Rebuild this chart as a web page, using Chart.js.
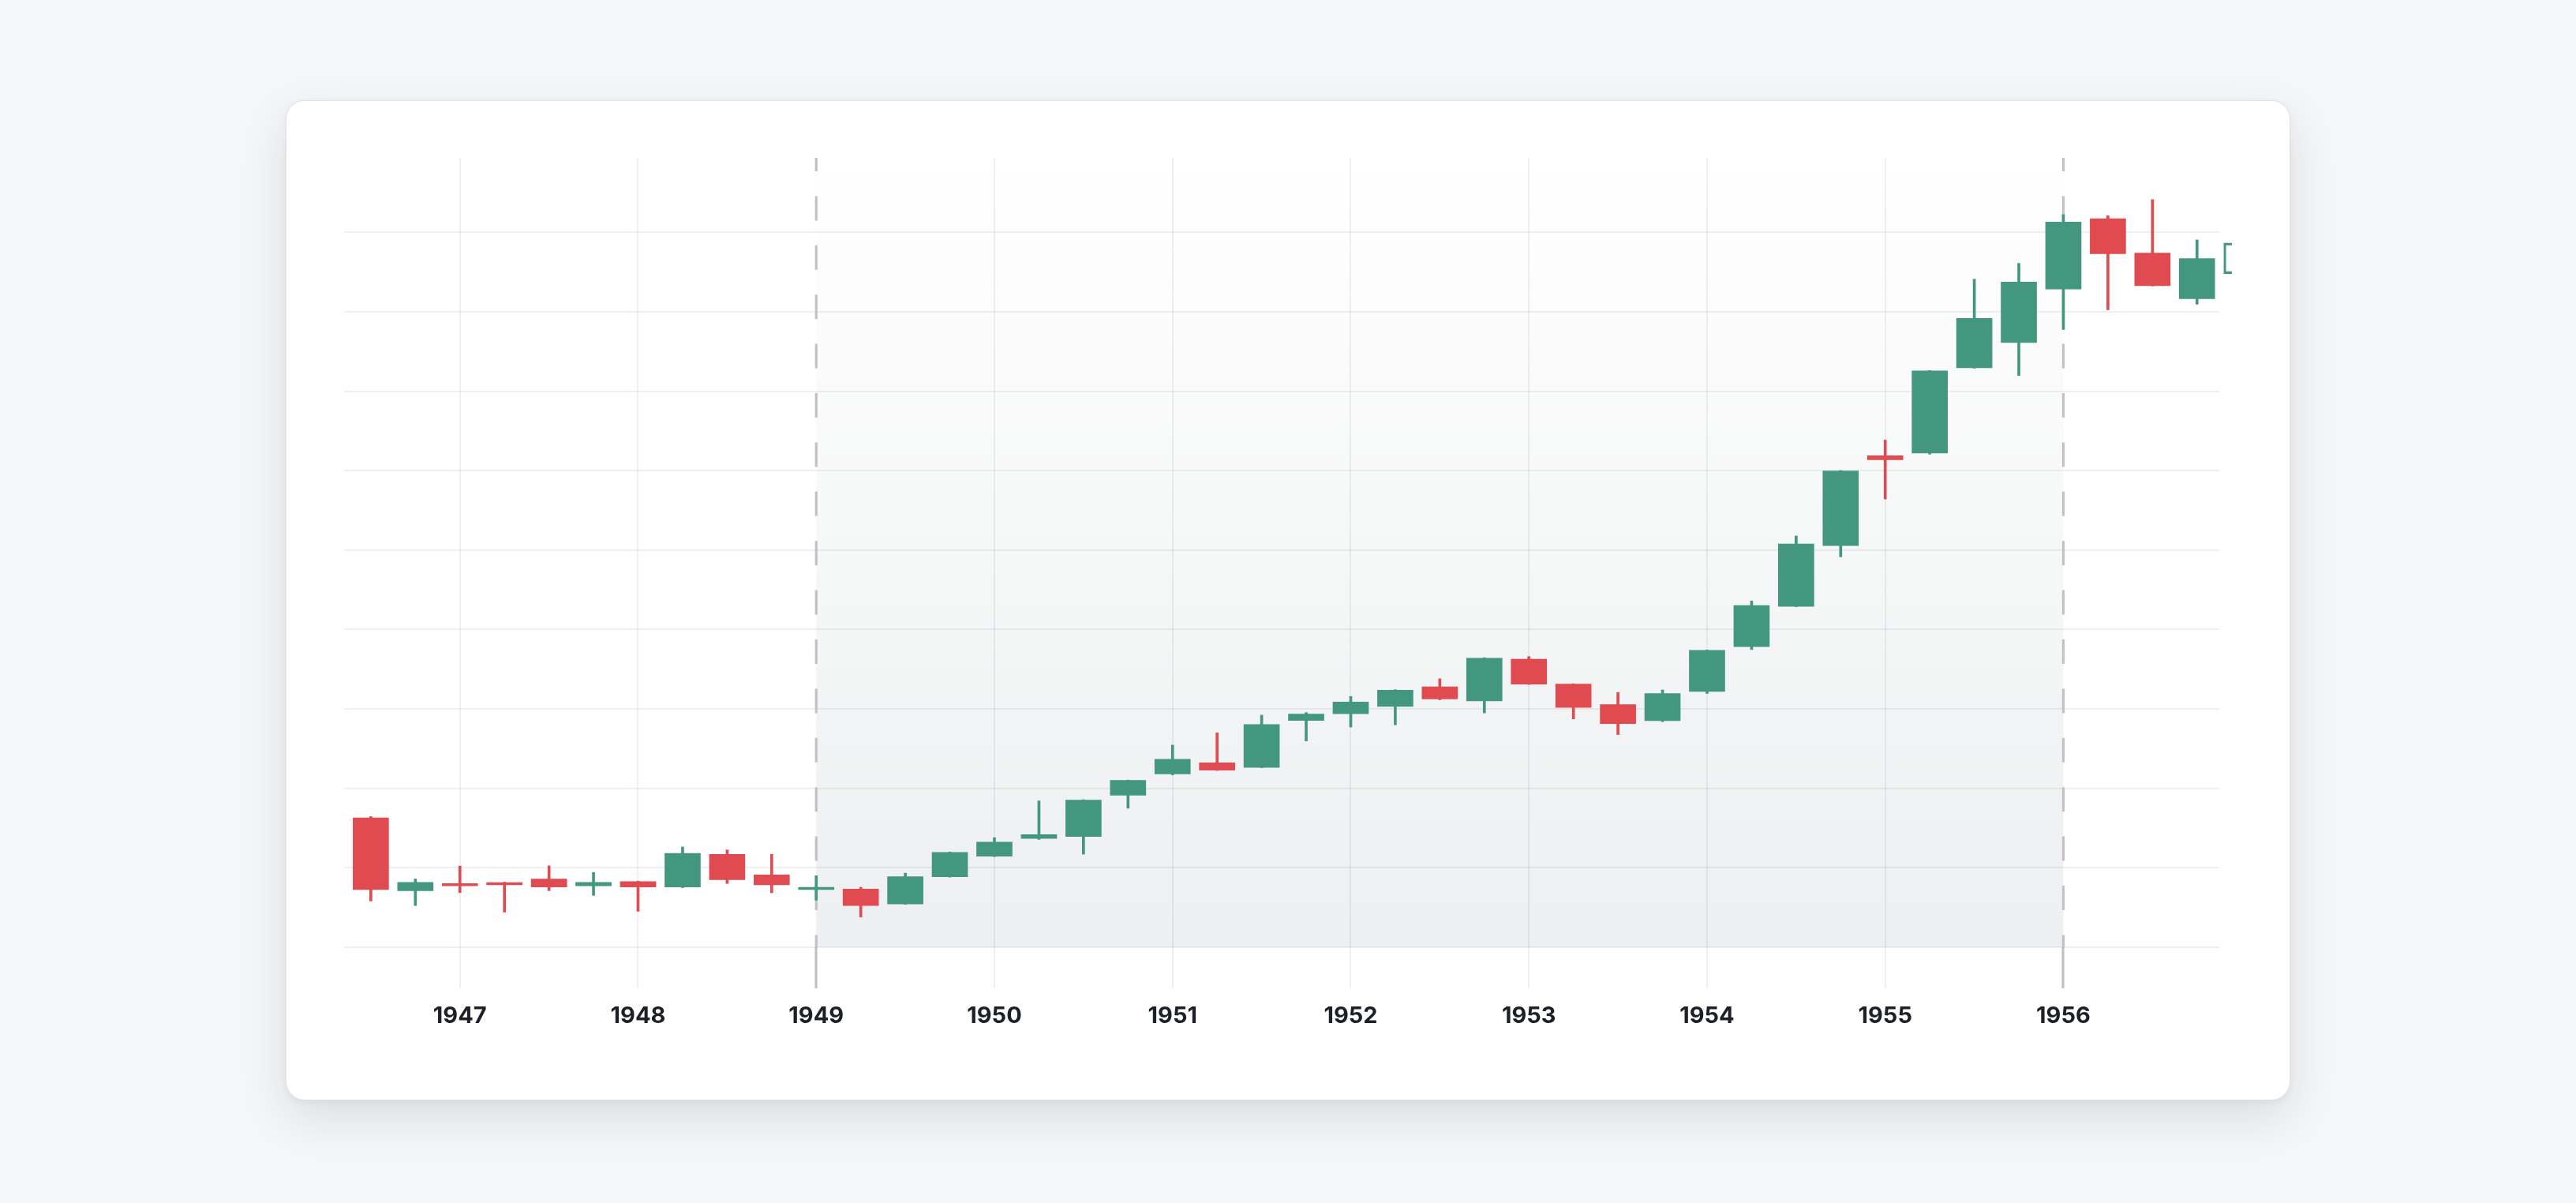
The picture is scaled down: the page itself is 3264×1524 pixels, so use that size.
<!DOCTYPE html>
<html>
<head>
<meta charset="utf-8">
<script src="https://cdn.jsdelivr.net/npm/chart.js@4.4.1/dist/chart.umd.min.js"></script>
<style>
  html, body { margin:0; padding:0; width:3264px; height:1524px; overflow:hidden; background:#f5f6f8; }
  #card { position:absolute; left:362px; top:127px; width:2540px; height:1267px; box-sizing:border-box;
          background:#ffffff; border:1px solid #e1e3e6; border-radius:24px;
          box-shadow:0 22px 60px rgba(16,24,40,0.11), 0 3px 8px rgba(16,24,40,0.05); }
  #wrap { position:absolute; left:0; top:0; width:3264px; height:1524px; }
</style>
</head>
<body>
<div id="card"></div>
<div id="wrap"><canvas id="c" width="3264" height="1524"></canvas></div>
<script>
// ---- data (quarterly candles) ----
const quarters = [1946.5, 1946.75,
  1947.0, 1947.25, 1947.5, 1947.75,
  1948.0, 1948.25, 1948.5, 1948.75,
  1949.0, 1949.25, 1949.5, 1949.75,
  1950.0, 1950.25, 1950.5, 1950.75,
  1951.0, 1951.25, 1951.5, 1951.75,
  1952.0, 1952.25, 1952.5, 1952.75,
  1953.0, 1953.25, 1953.5, 1953.75,
  1954.0, 1954.25, 1954.5, 1954.75,
  1955.0, 1955.25, 1955.5, 1955.75,
  1956.0, 1956.25, 1956.5, 1956.75,
  1957.0];
const opens = [205.2, 168.5,
  171.8, 172.5, 174.4, 170.9,
  173.1, 170.3, 186.8, 176.4,
  169.0, 169.3, 161.8, 175.5,
  185.8, 194.8, 195.8, 216.6,
  227.3, 232.9, 230.6, 254.2,
  257.6, 261.3, 271.1, 264.1,
  285.1, 272.5, 262.2, 254.1,
  268.8, 291.4, 311.7, 342.3,
  387.5, 388.9, 431.8, 444.5,
  471.4, 506.9, 489.6, 466.6,
  479.2];
const highs = [205.8, 174.4,
  180.9, 172.8, 181.0, 177.7,
  173.3, 190.5, 189.0, 186.8,
  176.0, 170.2, 177.3, 188.0,
  195.2, 213.7, 214.3, 224.2,
  241.8, 248.0, 256.9, 258.2,
  266.3, 269.7, 275.2, 285.8,
  286.4, 272.7, 268.3, 269.6,
  289.7, 314.4, 347.1, 380.1,
  395.4, 430.4, 476.4, 484.4,
  508.9, 508.4, 516.5, 496.2,
  497.0];
const lows = [163.3, 161.0,
  167.5, 157.7, 168.5, 166.1,
  158.1, 170.0, 172.1, 167.4,
  163.7, 155.2, 161.6, 175.3,
  185.6, 194.3, 186.9, 210.0,
  226.8, 229.0, 230.4, 243.9,
  250.9, 252.0, 264.6, 258.0,
  272.3, 255.0, 247.1, 253.6,
  267.8, 289.9, 311.5, 336.6,
  365.7, 388.3, 431.6, 427.9,
  451.1, 461.0, 473.0, 463.8,
  477.0];
const closes = [169.0, 172.7,
  170.9, 171.4, 170.3, 172.7,
  170.3, 187.3, 174.0, 171.4,
  170.2, 161.0, 175.5, 187.8,
  192.9, 196.7, 214.1, 224.0,
  234.7, 229.2, 252.2, 257.4,
  263.5, 269.5, 265.0, 285.6,
  272.5, 260.8, 252.6, 267.8,
  289.5, 312.1, 343.1, 379.9,
  385.5, 430.2, 456.7, 475.0,
  505.2, 489.2, 473.1, 486.8,
  494.6];
const tickYears = [1947, 1948, 1949, 1950, 1951, 1952, 1953, 1954, 1955, 1956];
const yTicks = [140, 180, 220, 260, 300, 340, 380, 420, 460, 500];
const highlightRange = [1949, 1956];
const xRange = [1946.35, 1956.875];
const yRange = [140, 537.5];

// ---- styles ----
const UP = '#44977f';
const DOWN = '#e04a51';
const GRID = 'rgba(30,40,60,0.07)';
const MARK = '#c0c2c7';

const candleColor = i => (closes[i] >= opens[i] ? UP : DOWN);
const isPartial = i => quarters[i] > xRange[1];
const isMarker = ctx => ctx.tick && highlightRange.includes(ctx.tick.value);

const bodyData = quarters.map((q, i) => ({ x: q, y: [opens[i], closes[i]] }));
const wickData = quarters.map((q, i) => ({ x: q, y: [lows[i], highs[i]] }));

const bandPlugin = {
  id: 'band',
  beforeDraw(chart) {
    const { ctx, chartArea: a, scales: { x } } = chart;
    const x0 = x.getPixelForValue(highlightRange[0]);
    const x1 = x.getPixelForValue(highlightRange[1]);
    const g = ctx.createLinearGradient(0, a.top, 0, a.bottom);
    g.addColorStop(0, 'rgba(237,239,240,0)');
    g.addColorStop(1, 'rgba(237,239,240,1)');
    ctx.save();
    ctx.fillStyle = g;
    ctx.fillRect(x0, a.top, x1 - x0, a.bottom - a.top);
    ctx.restore();
  },
  beforeDatasetsDraw(chart) {
    const { ctx, chartArea: a, scales: { x } } = chart;
    ctx.save();
    ctx.strokeStyle = MARK;
    ctx.lineWidth = 3.2;
    ctx.setLineDash([31, 31.4]);
    ctx.lineDashOffset = 14;
    highlightRange.forEach(v => {
      const px = x.getPixelForValue(v);
      ctx.beginPath();
      ctx.moveTo(px, a.top);
      ctx.lineTo(px, a.bottom);
      ctx.stroke();
    });
    ctx.restore();
  }
};

new Chart(document.getElementById('c'), {
  type: 'bar',
  data: {
    datasets: [
      {
        label: 'wick',
        data: wickData,
        order: 2,
        grouped: false,
        barThickness: 3,
        borderWidth: 0,
        backgroundColor: ctx => candleColor(ctx.dataIndex)
      },
      {
        label: 'body',
        data: bodyData,
        order: 1,
        grouped: false,
        barThickness: 45,
        borderSkipped: false,
        minBarLength: 3,
        borderWidth: ctx => (isPartial(ctx.dataIndex) ? 2.5 : 0),
        borderColor: ctx => candleColor(ctx.dataIndex),
        backgroundColor: ctx => (isPartial(ctx.dataIndex) ? 'rgba(0,0,0,0)' : candleColor(ctx.dataIndex)),
        clip: { left: 0, top: 0, right: 16, bottom: 0 }
      }
    ]
  },
  options: {
    responsive: false,
    animation: false,
    devicePixelRatio: 1,
    events: [],
    layout: { padding: { left: 436, right: 452, top: 200, bottom: 224 } },
    plugins: { legend: { display: false }, tooltip: { enabled: false } },
    scales: {
      x: {
        type: 'linear',
        min: xRange[0],
        max: xRange[1],
        offset: false,
        afterBuildTicks: s => { s.ticks = tickYears.map(v => ({ value: v })); },
        afterFit: s => { s.height = 100; },
        border: { display: false },
        grid: {
          offset: false,
          drawTicks: true,
          tickLength: 52,
          lineWidth: 2,
          color: ctx => (isMarker(ctx) ? 'rgba(0,0,0,0)' : GRID),
          tickColor: ctx => (isMarker(ctx) ? MARK : GRID),
          tickWidth: ctx => (isMarker(ctx) ? 3.2 : 2)
        },
        ticks: {
          autoSkip: false,
          maxRotation: 0,
          padding: 18,
          color: '#1d2027',
          font: { family: 'Inter', size: 29, weight: '700' },
          callback: v => String(v)
        }
      },
      y: {
        min: yRange[0],
        max: yRange[1],
        afterBuildTicks: s => { s.ticks = yTicks.map(v => ({ value: v })); },
        afterFit: s => { s.width = 0; },
        border: { display: false },
        grid: { color: GRID, lineWidth: 2, drawTicks: false },
        ticks: { display: false }
      }
    }
  },
  plugins: [bandPlugin]
});
</script>
</body>
</html>
